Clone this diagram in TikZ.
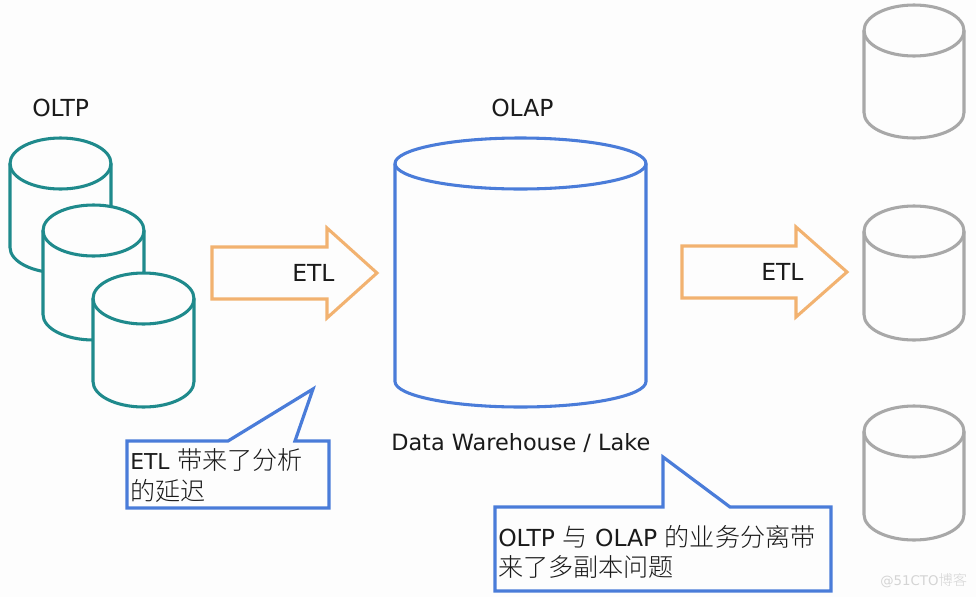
\documentclass[tikz,border=0pt]{standalone}
\usepackage{fontspec}
\setmainfont{DejaVu Sans}
\newfontfamily\cjk{Noto Sans CJK SC Light}[Scale=1.07]
\definecolor{paper}{HTML}{FDFDFD}
\definecolor{tealline}{HTML}{1F8A8C}
\definecolor{blueline}{HTML}{4A7CD9}
\definecolor{orangeline}{HTML}{F2B270}
\definecolor{greyline}{HTML}{A8A8A8}
\definecolor{inktext}{HTML}{1A1A1A}
\definecolor{marktext}{HTML}{D4D4D4}
\tikzset{
  barrel/.style={line width=2.3pt,fill=paper,line join=round},
  flowarrow/.style={draw=orangeline,line width=2.3pt,fill=paper,line join=miter},
  callout/.style={draw=blueline,line width=2.4pt,fill=paper,line join=miter},
  caption/.style={anchor=west,inner sep=0pt,text=inktext,font=\fontsize{17.6pt}{20pt}\selectfont},
  wide caption/.style={anchor=west,inner sep=0pt,text=inktext,font=\fontsize{16.8pt}{20pt}\selectfont},
  note/.style={anchor=west,inner sep=0pt,text=inktext,font=\fontsize{17.6pt}{20pt}\selectfont},
  pics/drum/.style n args={3}{code={
    % #1 width, #2 height, #3 colour; origin at the top-left of the outline
    \pgfmathsetmacro{\rx}{#1/2}
    \def\ry{25.5}
    \path[barrel,draw=#3] (0,\ry) arc[x radius=\rx,y radius=\ry,start angle=180,end angle=360]
      -- (#1,#2-\ry) arc[x radius=\rx,y radius=\ry,start angle=0,end angle=180] -- cycle;
    \path[barrel,draw=#3,fill=none] (0,\ry) arc[x radius=\rx,y radius=\ry,start angle=180,end angle=0];
  }}
}
\begin{document}
\begin{tikzpicture}[x=0.75pt,y=-0.75pt]
\useasboundingbox (0,0) rectangle (976,597);
\fill[paper] (0,0) rectangle (976,597);

% source databases
\pic at (10,138) {drum={101}{135}{tealline}};
\pic at (43,205) {drum={101}{135}{tealline}};
\pic at (93,273) {drum={101}{134}{tealline}};

% warehouse
\pic at (395,138) {drum={251}{269}{blueline}};

% downstream copies
\pic at (864,5) {drum={100}{133}{greyline}};
\pic at (864,206) {drum={100}{134}{greyline}};
\pic at (864,406) {drum={100}{134}{greyline}};

% ETL arrows
\draw[flowarrow] (212,247) -- (327,247) -- (327,228) -- (377,273) -- (327,318) -- (327,299) -- (212,299) -- cycle;
\draw[flowarrow] (682,246) -- (796,246) -- (796,227) -- (847,272) -- (796,317) -- (796,298) -- (682,298) -- cycle;

% callouts
\draw[callout] (127,441) -- (228,441) -- (313,389) -- (295,441) -- (329,441) -- (329,508) -- (127,508) -- cycle;
\draw[callout] (495,507) -- (663,507) -- (663,457) -- (730,507) -- (831,507) -- (831,591) -- (495,591) -- cycle;

% labels
\node[caption] (oltp) at (32,108) {OLTP};
\node[caption] (olap) at (491,108) {OLAP};
\node[caption] (etla) at (292,273) {ETL};
\node[caption] (etlb) at (761,272) {ETL};
\node[wide caption] (dw) at (391,443) {Data Warehouse / Lake};
\node[note] (n1a) at (130,460) {{\fontsize{16.4pt}{20pt}\selectfont ETL} {\cjk 带来了分析}};
\node[note] (n1b) at (130,491) {\cjk 的延迟};
\node[note] (n2a) at (498,537) {OLTP {\cjk 与} OLAP {\cjk 的业务分离带}};
\node[note] (n2b) at (498,567) {\cjk 来了多副本问题};
\node[anchor=west,inner sep=0pt,text=marktext,font=\fontsize{10pt}{12pt}\selectfont] (mark) at (880,581) {@51CTO{\cjk 博客}};
\end{tikzpicture}
\end{document}
